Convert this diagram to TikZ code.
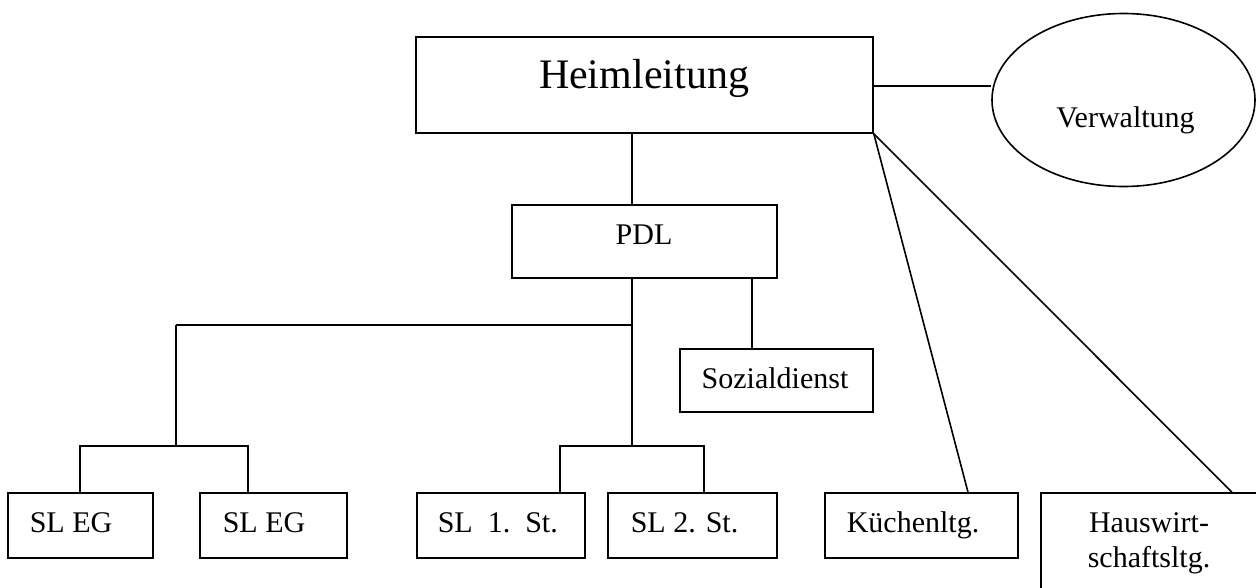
\documentclass[tikz,border=0pt]{standalone}
\usepackage{fontspec}
\setmainfont{Liberation Serif}
\usetikzlibrary{shapes.geometric}
\begin{document}
\begin{tikzpicture}[x=1pt,y=-1pt,
  line width=1.6pt,
  orgbox/.style={draw, rectangle, inner sep=0pt},
  lbl/.style={inner sep=0pt, font=\fontsize{30}{35}\selectfont},
  biglbl/.style={inner sep=0pt, font=\fontsize{42}{48}\selectfont}]
  \useasboundingbox (0,0) rectangle (1256,587);
  \clip (0,0) rectangle (1256,587);

  % top level
  \node[orgbox, minimum width=457pt, minimum height=96pt] (heim) at (644.5,85) {};
  \node[biglbl, anchor=base] (heimtxt) at (644,88) {Heimleitung};
  \node[draw, ellipse, inner sep=0pt, minimum width=263pt, minimum height=173pt] (verw) at (1123.5,100) {};
  \node[lbl, anchor=base] (verwtxt) at (1125.5,127) {Verwaltung};

  % second level
  \node[orgbox, minimum width=265pt, minimum height=73pt] (pdl) at (644.5,241.5) {};
  \node[lbl, anchor=base] (pdltxt) at (644,244) {PDL};
  \node[orgbox, minimum width=193pt, minimum height=63pt] (sozial) at (776.5,380.5) {};
  \node[lbl, anchor=base] (sozialtxt) at (775,388) {Sozialdienst};

  % bottom row
  \node[orgbox, minimum width=145pt, minimum height=65pt] (egA) at (80.5,525.5) {};
  \node[lbl, anchor=base west] (egAtxt) at (29,532) {SL EG};
  \node[orgbox, minimum width=147pt, minimum height=65pt] (egB) at (273.5,525.5) {};
  \node[lbl, anchor=base west] (egBtxt) at (222,532) {SL EG};
  \node[orgbox, minimum width=168pt, minimum height=65pt] (stA) at (501,525.5) {};
  \node[lbl, anchor=base west] (stAtxt) at (437,532) {SL\hspace{0.5em}1.\hspace{0.5em}St.};
  \node[orgbox, minimum width=169pt, minimum height=65pt] (stB) at (692.5,525.5) {};
  \node[lbl, anchor=base west] (stBtxt) at (630,532) {SL 2. St.};
  \node[orgbox, minimum width=193pt, minimum height=65pt] (kueche) at (921.5,525.5) {};
  \node[lbl, anchor=base west] (kuechetxt) at (846,532) {Küchenltg.};
  \node[orgbox, minimum width=259pt, minimum height=127pt] (haus) at (1170.5,556.5) {};
  \node[lbl, anchor=base] (haustxtA) at (1149,532) {Hauswirt-};
  \node[lbl, anchor=base] (haustxtB) at (1149,567) {schaftsltg.};

  % branch points
  \coordinate (stem) at (632,0);
  \coordinate (leftstem) at (176,0);
  \coordinate (upperbar) at (0,325);
  \coordinate (lowerbar) at (0,446);
  \coordinate (egAdrop) at (80,0);
  \coordinate (egBdrop) at (248,0);
  \coordinate (stAdrop) at (560,0);
  \coordinate (stBdrop) at (704,0);
  \coordinate (sozstem) at (752,0);
  \coordinate (kuecheend) at (968,0);
  \coordinate (hausend) at (1232,0);

  % connectors
  \draw (heim.south -| stem) -- (pdl.north -| stem);
  \draw (heim.east |- 0,86) -- (verw.west |- 0,86);
  \draw (pdl.south -| stem) -- (stem |- lowerbar);
  \draw (upperbar -| leftstem) -- (upperbar -| stem);
  \draw (upperbar -| leftstem) -- (lowerbar -| leftstem);
  \draw (egA.north -| egAdrop) |- (lowerbar -| egBdrop) -- (egB.north -| egBdrop);
  \draw (stA.north -| stAdrop) |- (lowerbar -| stBdrop) -- (stB.north -| stBdrop);
  \draw (pdl.south -| sozstem) -- (sozial.north -| sozstem);
  \draw (heim.south east) -- (kueche.north -| kuecheend);
  \draw (heim.south east) -- (haus.north -| hausend);
\end{tikzpicture}
\end{document}
